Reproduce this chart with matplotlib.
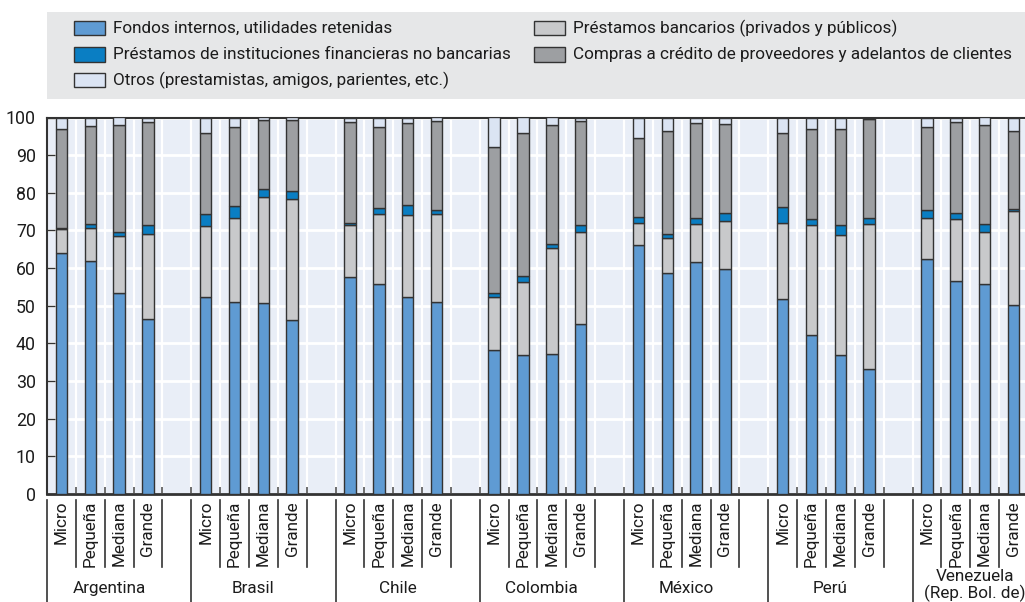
import numpy as np
import matplotlib.pyplot as plt
from matplotlib.patches import Rectangle

plt.rcParams['font.family'] = ['Roboto', 'DejaVu Sans']

# data (percent of financing)
countries = ['Argentina', 'Brasil', 'Chile', 'Colombia', 'México', 'Perú',
             'Venezuela\n(Rep. Bol. de)']
sizes = ['Micro', 'Pequeña', 'Mediana', 'Grande']

fondos = [64.1, 61.9, 53.5, 46.6,  52.3, 51.0, 50.8, 46.2,  57.6, 55.9, 52.2, 51.0,
          38.2, 37.0, 37.2, 45.2,  66.1, 58.6, 61.5, 59.8,  51.7, 42.3, 37.0, 33.3,
          62.5, 56.6, 55.9, 50.2]
bancarios = [6.2, 8.7, 15.1, 22.5,  19.0, 22.2, 28.2, 32.2,  13.8, 18.5, 22.0, 23.4,
             14.2, 19.3, 28.1, 24.4,  5.9, 9.4, 10.2, 12.8,  20.4, 29.1, 31.9, 38.5,
             10.9, 16.4, 13.8, 25.0]
no_bancarias = [0.4, 1.2, 1.1, 2.3,  3.2, 3.3, 1.9, 2.1,  0.7, 1.5, 2.5, 1.1,
                1.1, 1.7, 1.1, 1.9,  1.5, 1.1, 1.5, 2.0,  4.2, 1.7, 2.5, 1.4,
                1.9, 1.6, 1.9, 0.6]
compras = [26.2, 26.0, 28.4, 27.5,  21.5, 21.0, 18.4, 18.8,  26.6, 21.6, 21.8, 23.5,
           38.7, 37.8, 31.7, 27.6,  21.1, 27.4, 25.4, 23.7,  19.6, 23.8, 25.5, 26.4,
           22.1, 24.1, 26.5, 20.5]
otros = [3.1, 2.2, 1.9, 1.1,  4.0, 2.5, 0.7, 0.7,  1.3, 2.5, 1.5, 1.0,
         7.8, 4.2, 1.9, 0.9,  5.4, 3.5, 1.4, 1.7,  4.1, 3.1, 3.1, 0.4,
         2.6, 1.3, 1.9, 3.7]

series = [
    ('Fondos internos, utilidades retenidas', fondos, '#5f9bd3'),
    ('Préstamos bancarios (privados y públicos)', bancarios, '#c8c9cb'),
    ('Préstamos de instituciones financieras no bancarias', no_bancarias, '#0a7ec3'),
    ('Compras a crédito de proveedores y adelantos de clientes', compras, '#9d9fa2'),
    ('Otros (prestamistas, amigos, parientes, etc.)', otros, '#dbe4f3'),
]

FS = 12.3
TXT = '#1c1c1c'
W, H = 1025, 602
fig = plt.figure(figsize=(W / 100, H / 100), dpi=100)

# axes: one slot per bar, 5 slots per country (4 bars + gap), cut at the right edge
slot = 28.85
ax = fig.add_axes([47 / W, 1 - 494 / H, 34 * slot / W, 376.5 / H])
ax.set_facecolor('#e9eef7')

n_groups = len(countries)
x = np.array([g * 5 + i for g in range(n_groups) for i in range(len(sizes))])

bottom = np.zeros(len(x))
for name, vals, color in series:
    ax.bar(x, vals, width=0.4, bottom=bottom, color=color,
           edgecolor='#333333', linewidth=1.0, zorder=3)
    bottom += np.array(vals)

ax.set_xlim(-0.5, 33.5)
ax.set_ylim(0, 100)
ax.set_yticks(range(0, 101, 10))
ax.set_xticks(x)
ax.set_xticklabels(sizes * n_groups, rotation=90, va='top', ha='center', fontsize=FS)
ax.set_xticks(np.arange(-0.5, 34, 1), minor=True)
ax.tick_params(axis='x', which='major', length=0, pad=5, colors=TXT)
ax.tick_params(axis='x', which='minor', direction='in', length=5, width=1.2, color='#555555')
ax.tick_params(axis='y', direction='in', length=6, width=1, color='#333333',
               labelsize=FS + 0.5, pad=8, labelcolor=TXT)

ax.grid(axis='y', which='major', color='white', linewidth=2, zorder=0)
ax.grid(axis='x', which='minor', color='white', linewidth=1.6, zorder=0)
ax.grid(axis='x', which='major', visible=False)
for side in ['left', 'top', 'bottom', 'right']:
    ax.spines[side].set_color('#333333')
ax.spines['bottom'].set_linewidth(2)
ax.spines['top'].set_linewidth(1.5)
ax.spines['left'].set_linewidth(1.5)

# separators and country names under the axis
trans = ax.get_xaxis_transform()
for g in range(n_groups):
    start = g * 5 - 0.5
    ax.plot([start, start], [-0.016, -0.29], color='#333333', lw=1.2,
            transform=trans, clip_on=False)
    for i in range(1, 5):
        ax.plot([start + i, start + i], [-0.016, -0.194], color='#333333', lw=1.2,
                transform=trans, clip_on=False)
    ypos = -0.25 if '\n' not in countries[g] else -0.243
    ax.text(start + 2.15, ypos, countries[g], transform=trans, ha='center', va='center',
            fontsize=FS, color=TXT, linespacing=1.0)

# legend box
def fx(px):
    return px / W

def fy(py):
    return 1 - py / H

fig.patches.append(Rectangle((fx(47), fy(99)), fx(1030) - fx(47), fy(12) - fy(99),
                             transform=fig.transFigure, facecolor='#e6e7e8',
                             edgecolor='none', zorder=0))
legend_order = [0, 2, 4, 1, 3]
legend_pos = [(74, 28), (74, 54.5), (74, 80), (534, 28), (534, 54.5)]
for k, (px, py) in zip(legend_order, legend_pos):
    name, vals, color = series[k]
    fig.patches.append(Rectangle((fx(px), fy(py + 7)), fx(31), 14 / H,
                                 transform=fig.transFigure, facecolor=color,
                                 edgecolor='#333333', linewidth=1.0, zorder=1))
    fig.text(fx(px + 39), fy(py), name, ha='left', va='center', fontsize=FS,
             color=TXT)

fig.savefig('out.png', dpi=100)
